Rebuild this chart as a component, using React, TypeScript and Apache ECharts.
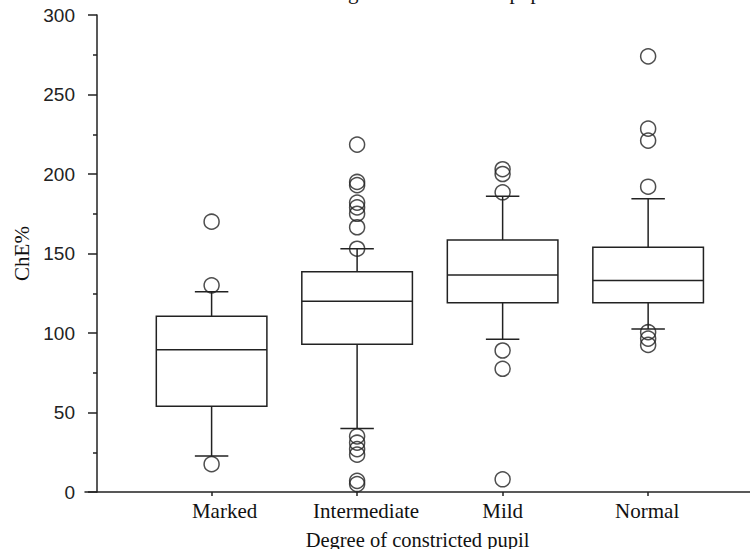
import React, { useEffect, useRef } from 'react';
import * as echarts from 'echarts';

const categories = ['Marked', 'Intermediate', 'Mild', 'Normal'];
const whiskerLow = [22.7, 40, 96, 102.5];
const q1 = [54, 93, 119, 119];
const median = [89.5, 120, 136.5, 133];
const q3 = [110.5, 138.5, 158.5, 154];
const whiskerHigh = [126, 153, 186, 184.5];
const outliersMarked = [170, 130, 17.5];
const outliersIntermediate = [218.5, 195, 193, 182, 179, 175, 166.5, 153, 35, 31, 27, 23.5, 7, 5];
const outliersMild = [203, 200, 188.5, 89, 77.5, 8];
const outliersNormal = [274, 228.5, 221, 192, 100.5, 96.5, 92.5];
const titleText = 'Degree of constricted pupil';
const xAxisTitle = 'Degree of constricted pupil';
const yAxisTitle = 'ChE%';

export default function App() {
  const ref = useRef<HTMLDivElement>(null);
  useEffect(() => {
    if (!ref.current) return;
    const chart = echarts.init(ref.current, undefined, { renderer: 'svg' });
    const ink = '#222';
    const lineStyle = { color: ink, width: 1.5 };
    const positions = categories.map((_, i) => i + 1);
    const boxData = categories.map((_, i) => [positions[i], whiskerLow[i], q1[i], median[i], q3[i], whiskerHigh[i]]);
    const outlierGroups = [outliersMarked, outliersIntermediate, outliersMild, outliersNormal];
    const outlierData: number[][] = [];
    outlierGroups.forEach((g, i) => g.forEach((v) => outlierData.push([positions[i], v])));
    const labelShift = [26, 18, 0, -2];
    const serif = 'Liberation Serif';
    const rich: any = {};
    categories.forEach((c, i) => {
      rich['c' + i] = {
        fontFamily: serif,
        fontSize: 21,
        color: '#111',
        padding: labelShift[i] >= 0 ? [0, 0, 0, labelShift[i]] : [0, -labelShift[i], 0, 0],
      };
    });

    chart.setOption({
      animation: false,
      backgroundColor: '#fff',
      grid: { left: 85, right: 0, top: 15, bottom: 57, outerBoundsMode: 'none', containLabel: false },
      graphic: [
        {
          type: 'text',
          x: 438,
          y: -8,
          style: {
            text: titleText,
            font: '21px "Liberation Serif"',
            fill: '#111',
            align: 'center',
            verticalAlign: 'middle',
          },
        },
      ],
      xAxis: {
        type: 'value',
        min: 0.13,
        max: 4.7,
        axisLine: { show: true, onZero: false, lineStyle },
        axisTick: { show: true, customValues: positions, length: 4, lineStyle },
        splitLine: { show: false },
        axisLabel: {
          customValues: positions,
          margin: 8,
          formatter: (v: number) => {
            const i = Math.round(v) - 1;
            return '{c' + i + '|' + categories[i] + '}';
          },
          rich,
        },
        name: xAxisTitle,
        nameLocation: 'middle',
        nameGap: 37,
        nameTextStyle: { fontFamily: serif, fontSize: 20.5, color: '#111' },
      },
      yAxis: {
        type: 'value',
        min: 0,
        max: 300,
        interval: 50,
        offset: -12,
        axisLine: { show: true, onZero: false, lineStyle },
        axisTick: { show: true, length: 9, lineStyle },
        minorTick: { show: true, splitNumber: 2, length: 4, lineStyle },
        splitLine: { show: false },
        minorSplitLine: { show: false },
        axisLabel: { margin: 22, fontFamily: 'Liberation Sans', fontSize: 19, color: '#222' },
        name: yAxisTitle,
        nameLocation: 'middle',
        nameGap: 60,
        nameTextStyle: { fontFamily: serif, fontSize: 21, color: '#111' },
      },
      series: [
        {
          type: 'custom',
          clip: false,
          data: boxData,
          encode: { x: 0, y: [1, 2, 3, 4, 5] },
          renderItem: (params: any, api: any) => {
            const x = api.value(0);
            const lo = api.value(1);
            const a = api.value(2);
            const m = api.value(3);
            const b = api.value(4);
            const hi = api.value(5);
            const bw = 0.38;
            const cw = 0.115;
            const st = { stroke: ink, lineWidth: 1.5, fill: 'none' };
            const seg = (x1: number, y1: number, x2: number, y2: number) => {
              const p1 = api.coord([x1, y1]);
              const p2 = api.coord([x2, y2]);
              return { type: 'line', shape: { x1: p1[0], y1: p1[1], x2: p2[0], y2: p2[1] }, style: st };
            };
            const tl = api.coord([x - bw, b]);
            const br = api.coord([x + bw, a]);
            return {
              type: 'group',
              children: [
                { type: 'rect', shape: { x: tl[0], y: tl[1], width: br[0] - tl[0], height: br[1] - tl[1] }, style: st },
                seg(x - bw, m, x + bw, m),
                seg(x, b, x, hi),
                seg(x - cw, hi, x + cw, hi),
                seg(x, a, x, lo),
                seg(x - cw, lo, x + cw, lo),
              ],
            };
          },
        },
        {
          type: 'scatter',
          data: outlierData,
          symbol: 'circle',
          symbolSize: 15,
          clip: false,
          itemStyle: { color: 'rgba(0,0,0,0)', borderColor: ink, borderWidth: 1.5 },
        },
      ],
    });
    return () => chart.dispose();
  }, []);
  return <div ref={ref} style={{ position: 'absolute', left: 0, top: 0, width: 750, height: 549 }} />;
}
